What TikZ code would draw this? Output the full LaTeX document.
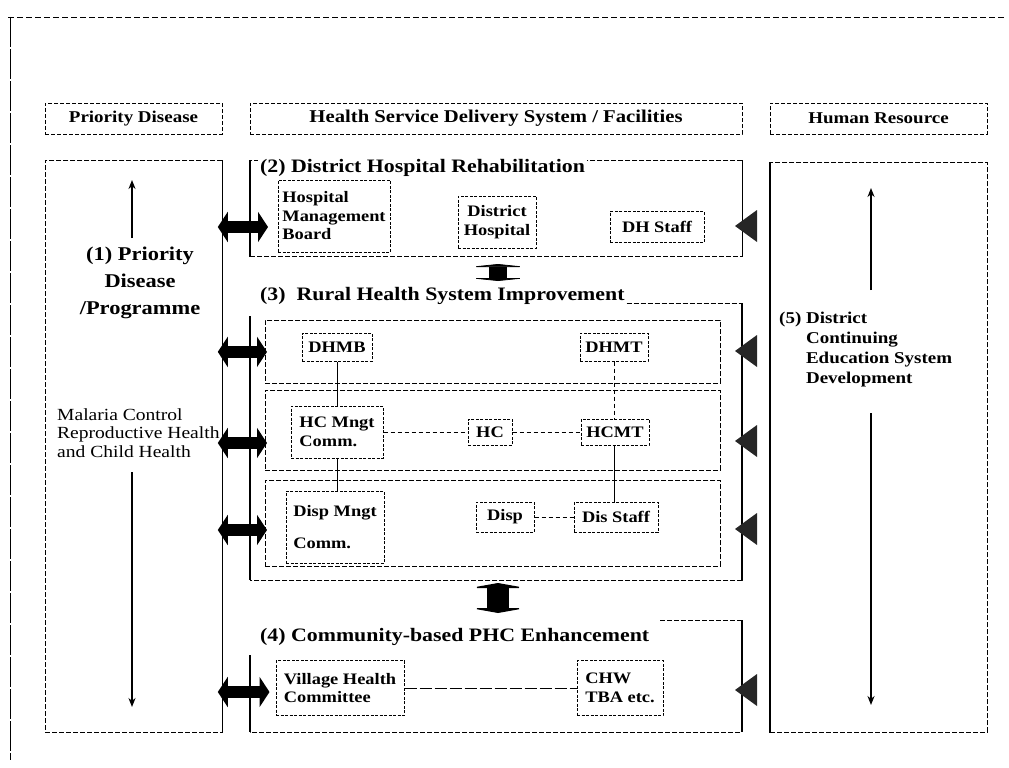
\documentclass[tikz,border=0pt]{standalone}
\usepackage{fontspec}
\setmainfont{Liberation Serif}[FakeStretch=1.15]
\usetikzlibrary{arrows.meta,calc}
\newcommand{\hdrF}{\fontsize{16.5}{20}\selectfont\bfseries}
\newcommand{\hsF}{\fontsize{18}{21}\selectfont\bfseries}
\newcommand{\ttlF}{\fontsize{19}{23}\selectfont\bfseries}
\newcommand{\lblF}{\fontsize{16}{18.5}\selectfont\bfseries}
\newcommand{\oneF}{\fontsize{19.5}{27}\selectfont\bfseries}
\newcommand{\malF}{\fontsize{17}{18.5}\selectfont}
\newcommand{\rtF}{\fontsize{16.5}{20}\selectfont\bfseries}
\begin{document}
\begin{tikzpicture}[x=1pt,y=-1pt,
 every node/.style={inner sep=0pt},
 dbox/.style={draw,line width=0.8pt,dash pattern=on 5pt off 2pt},
 sside/.style={line width=1.3pt},
 ibox/.style={draw,line width=1pt,dash pattern=on 3pt off 1.5pt,align=center,font=\lblF},
 ttl/.style={fill=white,inner sep=2pt,font=\ttlF,anchor=west},
 hdr/.style={draw,line width=0.8pt,dash pattern=on 4pt off 2pt,font=\hdrF},
 varrow/.style={line width=1.6pt,-{Stealth[length=9pt,width=7pt]}},
 fatdbl/.style={line width=12pt,{Triangle[length=10pt,width=30pt]}-{Triangle[length=10pt,width=30pt]}},
 conn/.style={line width=0.8pt},
 dconn/.style={line width=0.8pt,dash pattern=on 4pt off 3pt},
 tri/.style={fill=black!85},
 ibeamA/.style={line width=18pt,{Triangle[length=3pt,width=58pt]}-{Triangle[length=3pt,width=58pt]}},
 ibeamB/.style={line width=22pt,{Triangle[length=5pt,width=56pt]}-{Triangle[length=5pt,width=56pt]}}
]
\useasboundingbox (0,0) rectangle (1009,768);

% outer frame
\draw[line width=0.6pt,dash pattern=on 6pt off 3pt] (8,17) -- (1005,17);
\draw[line width=1pt,dash pattern=on 30pt off 2pt] (10,17) -- (10,760);

% headers
\node[hdr,minimum width=177pt,minimum height=31pt] (hpd) at (133.5,118.5) {Priority Disease};
\node[hdr,minimum width=492pt,minimum height=31pt,font=\hsF] (hhs) at (496,118.5) {Health Service Delivery System / Facilities};
\node[hdr,minimum width=217pt,minimum height=31pt] (hhr) at (878.5,118.5) {Human Resource};

% left column
\node[dbox,minimum width=177pt,minimum height=572pt,anchor=north west] (lc) at (45,160) {};
\draw[sside] (lc.north east) -- (lc.south east);
\node[align=center,font=\oneF] (t1) at (140,283) {(1) Priority\\Disease\\/Programme};
\node[anchor=west,align=left,font=\malF] (mal) at (57,433) {Malaria Control\\Reproductive Health\\and Child Health};
\coordinate (l1a) at (132,238); \coordinate (l1b) at (132,180);
\coordinate (l2a) at (132,472); \coordinate (l2b) at (132,707);
\draw[varrow] (l1a) -- (l1b);
\draw[varrow] (l2a) -- (l2b);

% right column
\node[dbox,minimum width=217pt,minimum height=570pt,anchor=north west] (rc) at (770,162) {};
\draw[sside] (rc.north west) -- (rc.south west);
\node[anchor=north west,align=left,font=\rtF] (t5) at (779,312) {(5) District\\\phantom{(5) }Continuing\\\phantom{(5) }Education System\\\phantom{(5) }Development};
\coordinate (r1a) at (871,290); \coordinate (r1b) at (871,188);
\coordinate (r2a) at (871,413); \coordinate (r2b) at (871,705);
\draw[varrow] (r1a) -- (r1b);
\draw[varrow] (r2a) -- (r2b);

% (2) district hospital
\node[dbox,minimum width=492pt,minimum height=96pt,anchor=north west] (s2) at (250,160) {};
\draw[sside] (s2.north west) -- (s2.south west);
\draw[sside] (s2.north east) -- (s2.south east);
\node[ttl] (t2) at (258,168) {(2) District Hospital Rehabilitation};
\node[ibox,align=left,minimum width=112pt,minimum height=72pt] (hmb) at (334,216) {Hospital\\Management\\Board};
\node[ibox,minimum width=78pt,minimum height=52pt] (dh) at (497,222) {District\\Hospital};
\node[ibox,minimum width=94pt,minimum height=31pt] (dhs) at (657,227) {DH Staff};

% (3) rural health
\node[ttl] (t3) at (258,296) {(3)\ \ Rural Health System Improvement};
\coordinate (y3) at (0,303);
\draw[dbox] (t3.east |- y3) -- (742,303) -- (742,580) -- (250,580) -- (250,316);
\draw[sside] (742,303) -- (742,580);
\draw[sside] (250,316) -- (250,580);
\node[dbox,minimum width=455pt,minimum height=63pt,anchor=north west] (r1) at (265,320) {};
\node[dbox,minimum width=455pt,minimum height=80pt,anchor=north west] (r2) at (265,390) {};
\node[dbox,minimum width=455pt,minimum height=86pt,anchor=north west] (r3) at (265,480) {};
\node[ibox,minimum width=70pt,minimum height=28pt] (dhmb) at (337,347) {DHMB};
\node[ibox,minimum width=68pt,minimum height=28pt] (dhmt) at (614,347) {DHMT};
\node[ibox,align=left,minimum width=92pt,minimum height=52pt] (hcm) at (337,432) {HC Mngt\\Comm.};
\node[ibox,minimum width=44pt,minimum height=26pt] (hc) at (490,432) {HC};
\node[ibox,minimum width=68pt,minimum height=26pt] (hcmt) at (615,432) {HCMT};
\node[ibox,align=left,minimum width=98pt,minimum height=72pt] (dispm) at (335,527) {Disp Mngt\\[14pt]Comm.};
\node[ibox,minimum width=58pt,minimum height=30pt] (disp) at (505,517) {Disp};
\node[ibox,minimum width=84pt,minimum height=30pt] (disst) at (616,517) {Dis Staff};
\draw[conn] (dhmb.south) -- (dhmb.south |- hcm.north);
\draw[conn] (hcm.south -| dhmb.south) -- (dhmb.south |- dispm.north);
\draw[dconn] (dhmt.south) -- (dhmt.south |- hcmt.north);
\draw[conn] (hcmt.south -| dhmt.south) -- (dhmt.south |- disst.north);
\draw[dconn] (hcm.east) -- (hc.west);
\draw[dconn] (hc.east) -- (hcmt.west);
\draw[dconn] (disp.east) -- (disst.west);

% (4) community
\node[ttl] (t4) at (258,637) {(4) Community-based PHC Enhancement};
\draw[dbox] (660,620) -- (742,620) -- (742,732) -- (250,732) -- (250,655);
\draw[sside] (742,620) -- (742,732);
\draw[sside] (250,655) -- (250,732);
\node[ibox,align=left,minimum width=128pt,minimum height=55pt] (vhc) at (340,688) {Village Health\\Committee};
\node[ibox,align=left,minimum width=86pt,minimum height=55pt] (chw) at (620,688) {CHW\\TBA etc.};
\draw[line width=0.9pt,dash pattern=on 12pt off 3pt] (vhc.east) -- (chw.west);

% double arrows left column <-> sections
\draw[fatdbl] ([xshift=-5pt]lc.east |- dhs.west) -- ([xshift=18pt]s2.west |- dhs.west);
\draw[fatdbl] ([xshift=-5pt]lc.east |- r1.west) -- ([xshift=2pt]r1.west);
\draw[fatdbl] ([xshift=-5pt]lc.east |- 0,443) -- ([xshift=2pt]r2.west |- 0,443);
\draw[fatdbl] ([xshift=-5pt]lc.east |- 0,530) -- ([xshift=2pt]r3.west |- 0,530);
\draw[fatdbl] ([xshift=-5pt]lc.east |- 0,692) -- ([xshift=-6pt]vhc.west |- 0,692);

% triangles on the right
\foreach \yy in {226,351,441,529,690}{
  \fill[tri] (735,\yy) -- ++(22,-16) -- ++(0,32) -- cycle;
}

% links between sections
\coordinate (b23a) at (498,264); \coordinate (b23b) at (498,281);
\coordinate (b34a) at (498,583); \coordinate (b34b) at (498,613);
\draw[ibeamA] (b23a) -- (b23b);
\draw[ibeamB] (b34a) -- (b34b);
\end{tikzpicture}
\end{document}
